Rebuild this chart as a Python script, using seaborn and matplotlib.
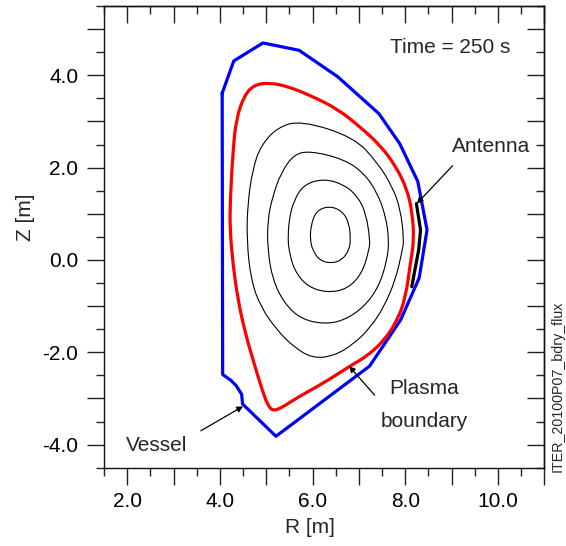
import numpy as np
import pandas as pd
import matplotlib
matplotlib.use("Agg")
import matplotlib.pyplot as plt
import seaborn as sns
from matplotlib.path import Path
from matplotlib.patches import PathPatch
from matplotlib.ticker import MultipleLocator, FuncFormatter, NullFormatter

# ---- data (R [m], Z [m]) ----
vessel_R = [4.05, 4.30, 4.93, 5.71, 6.54, 7.43, 7.88, 8.27, 8.47, 8.30, 7.90, 7.23,
            5.21, 4.49, 4.47, 4.35, 4.24, 4.06]
vessel_Z = [3.61, 4.31, 4.70, 4.54, 3.97, 3.17, 2.52, 1.70, 0.65, -0.39, -1.30, -2.30,
            -3.82, -3.12, -2.91, -2.72, -2.61, -2.48]

boundary_R = [5.06, 5.46, 5.96, 6.54, 7.04, 7.47, 7.79, 8.04, 8.15, 8.19, 8.11, 8.01,
              7.83, 7.54, 7.18, 6.82, 6.25, 5.67, 5.32, 5.14, 5.03, 4.92, 4.74, 4.53,
              4.38, 4.28, 4.22, 4.22, 4.28, 4.35, 4.53, 4.74]
boundary_Z = [3.84, 3.76, 3.56, 3.27, 2.87, 2.47, 2.04, 1.53, 1.03, 0.43, -0.07, -0.80,
              -1.31, -1.75, -2.08, -2.29, -2.66, -2.98, -3.21, -3.27, -3.14, -2.84, -2.25, -1.52,
              -0.80, -0.07, 0.65, 1.23, 2.32, 3.05, 3.57, 3.79]

flux1_R = [5.75, 6.89, 7.40, 7.72, 7.90, 7.97, 7.94, 7.79, 7.54, 7.25, 6.89, 6.46,
           6.00, 5.60, 5.24, 4.88, 4.67, 4.58, 4.60, 4.71, 4.88, 5.24]
flux1_Z = [3.02, 2.66, 2.11, 1.59, 1.09, 0.43, 0.22, -0.43, -1.02, -1.46, -1.82, -2.08,
           -2.13, -1.89, -1.53, -1.02, -0.43, 0.43, 1.23, 1.97, 2.47, 2.87]

flux2_R = [5.96, 6.68, 7.11, 7.40, 7.58, 7.65, 7.61, 7.43, 7.11, 6.68, 6.25, 5.75,
           5.39, 5.14, 5.03, 5.03, 5.14, 5.32, 5.60]
flux2_Z = [2.36, 2.18, 1.88, 1.45, 0.94, 0.43, 0.00, -0.58, -1.02, -1.31, -1.39, -1.28,
           -0.94, -0.43, 0.22, 0.87, 1.38, 1.89, 2.29]

flux3_R = [6.25, 6.68, 6.97, 7.15, 7.24, 7.22, 7.07, 6.75, 6.32, 5.89, 5.60, 5.49,
           5.47, 5.49, 5.60, 5.82]
flux3_Z = [1.76, 1.63, 1.38, 1.02, 0.43, 0.22, -0.29, -0.63, -0.71, -0.58, -0.22, 0.22,
           0.43, 0.87, 1.30, 1.64]

flux4_R = [6.36, 6.64, 6.79, 6.82, 6.79, 6.64, 6.39, 6.14, 6.00, 5.95, 5.96, 6.07]
flux4_Z = [1.17, 1.06, 0.80, 0.43, 0.22, 0.00, -0.08, 0.00, 0.22, 0.43, 0.72, 1.06]

antenna_R = [8.24, 8.33, 8.29, 8.14]
antenna_Z = [1.22, 0.65, 0.22, -0.58]

x_major = 1.0
x_minor = 0.5
xlim = (1.5, 11.0)
ylim = (-4.5, 5.5)

time_label = "Time = 250 s"
run_label = "ITER_20100P07_bdry_flux"

# ---- styling ----
sns.set_theme(style="ticks")
plt.rcParams['font.family'] = ['Liberation Sans', 'DejaVu Sans']
plt.rcParams['axes.unicode_minus'] = False

fig = plt.figure(figsize=(5.66, 5.46), dpi=100)
ax = fig.add_axes([104 / 566, 1 - 467.7 / 546, 440.3 / 566, 461.7 / 546])


def closed(r, z):
    return pd.DataFrame({"R": list(r) + [r[0]], "Z": list(z) + [z[0]]})


def smooth_closed_path(r, z):
    """Closed quadratic B-spline path using the read points as control points."""
    pts = np.column_stack([r, z])
    mids = (pts + np.roll(pts, -1, axis=0)) / 2
    verts = [mids[-1]]
    codes = [Path.MOVETO]
    for p, m in zip(pts, mids):
        verts += [p, m]
        codes += [Path.CURVE3, Path.CURVE3]
    return Path(verts, codes)


for r, z in [(flux1_R, flux1_Z), (flux2_R, flux2_Z), (flux3_R, flux3_Z), (flux4_R, flux4_Z)]:
    ax.add_patch(PathPatch(smooth_closed_path(r, z), fill=False, edgecolor="black",
                           lw=0.8, zorder=2))

sns.lineplot(data=closed(vessel_R, vessel_Z), x="R", y="Z", sort=False, estimator=None,
             color="#0000ff", lw=2.3, ax=ax)
ax.add_patch(PathPatch(smooth_closed_path(boundary_R, boundary_Z), fill=False,
                       edgecolor="#ff0000", lw=2.3, zorder=3))
sns.lineplot(data=pd.DataFrame({"R": antenna_R, "Z": antenna_Z}), x="R", y="Z",
             sort=False, estimator=None, color="black", lw=2.3, ax=ax)

ax.set_xlim(*xlim)
ax.set_ylim(*ylim)


def fmt(v, _):
    if abs(v - round(v)) < 1e-6 and int(round(v)) % 2 == 0:
        return f"{v:.1f}"
    return ""


tick_color = "#222222"
for axis in (ax.xaxis, ax.yaxis):
    axis.set_major_locator(MultipleLocator(x_major))
    axis.set_minor_locator(MultipleLocator(x_minor))
    axis.set_major_formatter(FuncFormatter(fmt))
ax.tick_params(which="major", length=12, width=1, direction="out", labelsize=15,
               color=tick_color, labelcolor="black")
ax.tick_params(which="minor", length=6, width=1, direction="out", color=tick_color)
ax.tick_params(axis="y", which="major", pad=6.5)
ax.tick_params(axis="x", which="major", pad=5.5)

secx = ax.secondary_xaxis("top")
secy = ax.secondary_yaxis("right")
for sec, axis in ((secx, secx.xaxis), (secy, secy.yaxis)):
    axis.set_major_locator(MultipleLocator(x_major))
    axis.set_minor_locator(MultipleLocator(x_minor))
    axis.set_major_formatter(NullFormatter())
    sec.tick_params(which="major", length=12, width=1, direction="in", color=tick_color)
    sec.tick_params(which="minor", length=6, width=1, direction="in", color=tick_color)

for s in list(ax.spines.values()):
    s.set_linewidth(1.0)
    s.set_color("#111111")
for sec in (secx, secy):
    for s in sec.spines.values():
        s.set_linewidth(1.0)
        s.set_color("#111111")

ax.set_xlabel("R [m]", fontsize=15)
ax.set_ylabel("Z [m]", fontsize=15)
ax.xaxis.set_label_coords(0.468, -0.108)
ax.yaxis.set_label_coords(-0.157, 0.543)

# annotations
ax.text(7.68, 4.49, time_label, fontsize=15, ha="left", va="baseline")
ax.text(9.01, 2.33, "Antenna", fontsize=15, ha="left", va="baseline")
ax.text(8.41, -2.91, "Plasma", fontsize=15, ha="center", va="baseline")
ax.text(8.41, -3.62, "boundary", fontsize=15, ha="center", va="baseline")
ax.text(1.98, -4.13, "Vessel", fontsize=15, ha="left", va="baseline")

arrow = dict(arrowstyle="-|>", color="black", lw=0.9, mutation_scale=9,
             shrinkA=0, shrinkB=0)
ax.annotate("", xy=(8.25, 1.22), xytext=(9.02, 2.04), arrowprops=arrow)
ax.annotate("", xy=(6.79, -2.30), xytext=(7.34, -2.93), arrowprops=arrow)
ax.annotate("", xy=(4.50, -3.17), xytext=(3.59, -3.70), arrowprops=arrow)

fig.text(558 / 566, 1 - 471.7 / 546, run_label, rotation=90, fontsize=10.3,
         ha="center", va="bottom")

fig.savefig("out.png", dpi=100)
